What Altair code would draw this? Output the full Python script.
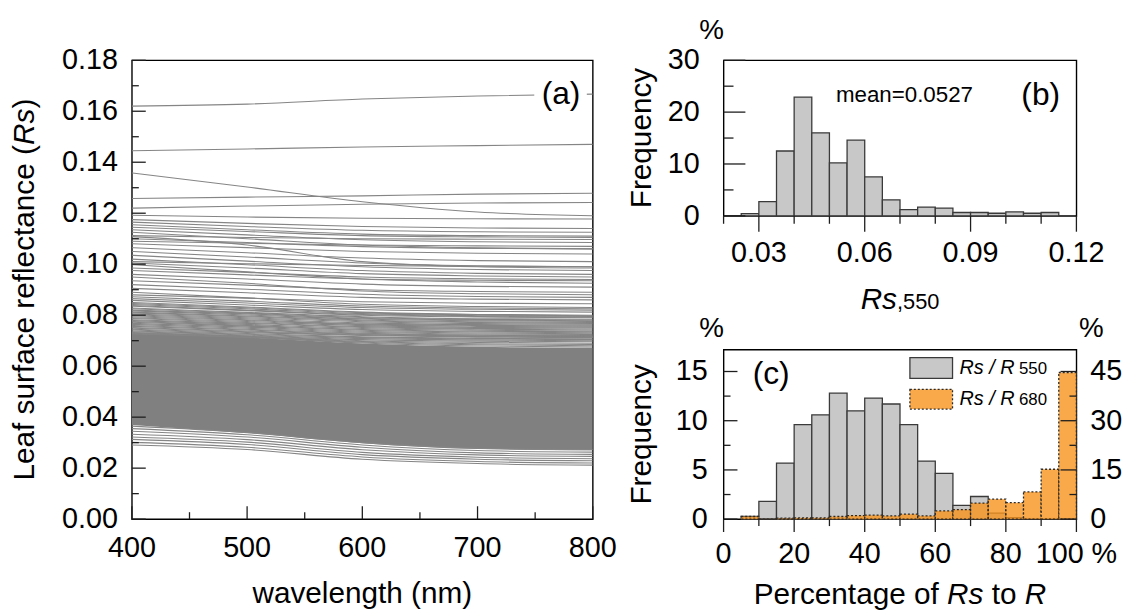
import altair as alt
import pandas as pd

FONT = "Liberation Sans"
INK = "#1e1e1e"

# ---------------- panel (a): spectra ----------------
WAVELENGTH = [400, 500, 600, 700, 800]

UPPER_LINES = [
    [0.1620, 0.1628, 0.1648, 0.1660, 0.1667],
    [0.1445, 0.1452, 0.1460, 0.1465, 0.1470],
    [0.1358, 0.1303, 0.1245, 0.1205, 0.1190],
    [0.1258, 0.1263, 0.1268, 0.1275, 0.1278],
    [0.1220, 0.1228, 0.1235, 0.1240, 0.1242],
    [0.1192, 0.1185, 0.1180, 0.1178, 0.1177],
    [0.1175, 0.1160, 0.1148, 0.1142, 0.1140],
    [0.1165, 0.1148, 0.1133, 0.1127, 0.1125],
    [0.1155, 0.1135, 0.1118, 0.1112, 0.1110],
    [0.1145, 0.1128, 0.1112, 0.1107, 0.1105],
    [0.1135, 0.1115, 0.1096, 0.1088, 0.1085],
    [0.1125, 0.1100, 0.1075, 0.1064, 0.1060],
    [0.1112, 0.1105, 0.1100, 0.1098, 0.1097],
    [0.1108, 0.1075, 0.1010, 0.0990, 0.0985],
    [0.1100, 0.1085, 0.1069, 0.1062, 0.1060],
    [0.1090, 0.1082, 0.1075, 0.1072, 0.1070],
    [0.1080, 0.1065, 0.1050, 0.1043, 0.1040],
    [0.1065, 0.1045, 0.1024, 0.1014, 0.1010],
    [0.1050, 0.1028, 0.1005, 0.0994, 0.0990],
    [0.1035, 0.1012, 0.0990, 0.0979, 0.0975],
    [0.1020, 0.0998, 0.0975, 0.0964, 0.0960],
    [0.1010, 0.1002, 0.0995, 0.0992, 0.0990],
    [0.1005, 0.0985, 0.0963, 0.0954, 0.0950],
    [0.0998, 0.0970, 0.0942, 0.0930, 0.0925],
    [0.0985, 0.0968, 0.0950, 0.0943, 0.0940],
    [0.0975, 0.0958, 0.0942, 0.0937, 0.0935],
    [0.0960, 0.0942, 0.0922, 0.0913, 0.0910],
    [0.0950, 0.0925, 0.0895, 0.0884, 0.0880],
    [0.0935, 0.0918, 0.0900, 0.0893, 0.0890],
    [0.0920, 0.0902, 0.0882, 0.0873, 0.0870],
    [0.0905, 0.0888, 0.0870, 0.0863, 0.0860],
    [0.0890, 0.0868, 0.0843, 0.0834, 0.0830],
    [0.0880, 0.0867, 0.0853, 0.0847, 0.0845],
    [0.0872, 0.0855, 0.0836, 0.0828, 0.0825],
    [0.0865, 0.0848, 0.0830, 0.0823, 0.0820],
    [0.0858, 0.0840, 0.0822, 0.0815, 0.0812],
    [0.0850, 0.0832, 0.0812, 0.0803, 0.0800],
    [0.0846, 0.0829, 0.0810, 0.0801, 0.0798],
    [0.0842, 0.0825, 0.0806, 0.0798, 0.0795],
    [0.0838, 0.0820, 0.0803, 0.0795, 0.0792],
    [0.0835, 0.0818, 0.0800, 0.0793, 0.0790],
    [0.0828, 0.0811, 0.0794, 0.0786, 0.0784],
    [0.0825, 0.0808, 0.0791, 0.0783, 0.0781],
    [0.0820, 0.0805, 0.0788, 0.0781, 0.0778],
    [0.0817, 0.0801, 0.0785, 0.0778, 0.0775],
    [0.0812, 0.0797, 0.0781, 0.0774, 0.0771],
    [0.0809, 0.0794, 0.0778, 0.0771, 0.0768],
    [0.0805, 0.0790, 0.0774, 0.0767, 0.0765],
    [0.0802, 0.0786, 0.0770, 0.0763, 0.0761],
    [0.0798, 0.0782, 0.0766, 0.0760, 0.0757],
    [0.0794, 0.0779, 0.0763, 0.0756, 0.0753],
    [0.0790, 0.0775, 0.0759, 0.0752, 0.0750],
    [0.0787, 0.0771, 0.0755, 0.0748, 0.0746],
    [0.0782, 0.0768, 0.0752, 0.0745, 0.0742],
    [0.0779, 0.0764, 0.0748, 0.0741, 0.0738],
    [0.0775, 0.0760, 0.0744, 0.0737, 0.0735],
    [0.0772, 0.0757, 0.0741, 0.0734, 0.0731],
    [0.0768, 0.0753, 0.0737, 0.0730, 0.0727],
    [0.0764, 0.0749, 0.0733, 0.0726, 0.0724],
    [0.0760, 0.0745, 0.0729, 0.0722, 0.0720],
    [0.0756, 0.0742, 0.0727, 0.0721, 0.0718],
    [0.0752, 0.0738, 0.0724, 0.0718, 0.0716],
    [0.0749, 0.0735, 0.0722, 0.0716, 0.0713],
    [0.0745, 0.0732, 0.0720, 0.0714, 0.0712],
    [0.0742, 0.0728, 0.0715, 0.0709, 0.0707],
    [0.0738, 0.0725, 0.0712, 0.0706, 0.0704],
    [0.0735, 0.0722, 0.0708, 0.0702, 0.0700],
    [0.0732, 0.0719, 0.0704, 0.0698, 0.0696],
    [0.0730, 0.0717, 0.0700, 0.0693, 0.0690],
    [0.0729, 0.0715, 0.0697, 0.0688, 0.0685],
    [0.0728, 0.0714, 0.0694, 0.0684, 0.0680],
    [0.0727, 0.0713, 0.0691, 0.0679, 0.0675],
]

LOWER_LINES = [
    [0.0365, 0.0340, 0.0300, 0.0278, 0.0272],
    [0.0355, 0.0331, 0.0291, 0.0269, 0.0263],
    [0.0345, 0.0322, 0.0282, 0.0260, 0.0254],
    [0.0333, 0.0312, 0.0272, 0.0252, 0.0246],
    [0.0322, 0.0302, 0.0262, 0.0243, 0.0237],
    [0.0313, 0.0293, 0.0253, 0.0235, 0.0229],
    [0.0301, 0.0282, 0.0244, 0.0226, 0.0220],
    [0.0291, 0.0273, 0.0235, 0.0218, 0.0212],
]

BAND_LOWER = [0.0369, 0.0337, 0.0298, 0.0275, 0.0270]
BAND_UPPER = [0.0727, 0.0713, 0.0689, 0.0676, 0.0672]

A_YMAJ = [0.00, 0.02, 0.04, 0.06, 0.08, 0.10, 0.12, 0.14, 0.16, 0.18]
A_YLAB = ["0.00", "0.02", "0.04", "0.06", "0.08", "0.10", "0.12", "0.14", "0.16", "0.18"]
A_YMIN = [0.01, 0.03, 0.05, 0.07, 0.09, 0.11, 0.13, 0.15, 0.17]
A_XMAJ = [400, 500, 600, 700, 800]
A_XLAB = ["400", "500", "600", "700", "800"]
A_XMIN = [450, 550, 650, 750]

# ---------------- panel (b): histogram of Rs,550 ----------------
B_EDGES = [0.025, 0.030, 0.035, 0.040, 0.045, 0.050, 0.055, 0.060, 0.065, 0.070,
           0.075, 0.080, 0.085, 0.090, 0.095, 0.100, 0.105, 0.110, 0.115]
B_FREQ = [0.45, 2.75, 12.5, 22.9, 16.0, 10.2, 14.6, 7.5, 3.1, 1.2,
          1.7, 1.5, 0.65, 0.65, 0.5, 0.75, 0.5, 0.65]
B_XMAJ = [0.03, 0.06, 0.09, 0.12]
B_XLAB = ["0.03", "0.06", "0.09", "0.12"]
B_XMIN = [0.02, 0.04, 0.05, 0.07, 0.08, 0.10, 0.11]
B_YMAJ = [0, 10, 20, 30]
B_YLAB = ["0", "10", "20", "30"]
B_YMIN = [5, 15, 25]

# ---------------- panel (c): percentage of Rs to R ----------------
C_EDGES = [5, 10, 15, 20, 25, 30, 35, 40, 45, 50, 55, 60, 65, 70, 75, 80, 85, 90, 95, 100]
C_R550 = [0.27, 1.8, 5.7, 9.6, 10.6, 12.8, 11.0, 12.3, 11.7, 9.6,
          5.9, 4.66, 1.4, 2.3, 0.6, 0.15, 0.0, 0.0, 0.0]
C_R680 = [0.8, 0.1, 0.3, 0.4, 0.4, 0.8, 1.1, 1.2, 1.0, 1.5,
          1.0, 2.5, 2.9, 4.9, 6.1, 5.0, 8.3, 15.2, 44.7]
C_XMAJ = [0, 20, 40, 60, 80, 100]
C_XLAB = ["0", "20", "40", "60", "80", "100 %"]
C_XMIN = [10, 30, 50, 70, 90]
C_YL_MAJ = [0, 5, 10, 15]
C_YL_LAB = ["0", "5", "10", "15"]
C_YL_MIN = [2.5, 7.5, 12.5]
C_YR_MAJ = [0, 15, 30, 45]
C_YR_LAB = ["0", "15", "30", "45"]
C_YR_MIN = [7.5, 22.5, 37.5]

GRAY_FILL = "#c8c8c8"
BAR_EDGE = "#3a3a3a"
ORANGE = "#f7941d"

# ---------------- geometry ----------------
A_W, A_H = 465, 463
B_W, B_H = 356, 157
C_W, C_H = 356, 171
H_GAP = 132
V_GAP = 135

ONE = pd.DataFrame({"k": [0]})


def txt(text, x, y, size, italic=False, align="center", baseline="middle", angle=0):
    return alt.Chart(ONE).mark_text(
        text=text, font=FONT, fontSize=size, fontStyle="italic" if italic else "normal",
        align=align, baseline=baseline, angle=angle, color="black"
    ).encode(x=alt.value(x), y=alt.value(y))


def box(x0, x1, y0, y1, **kw):
    return alt.Chart(ONE).mark_rect(**kw).encode(
        x=alt.value(x0), x2=alt.value(x1), y=alt.value(y0), y2=alt.value(y1))


def yticks(vals, scale, x0, x1):
    return alt.Chart(pd.DataFrame({"v": vals})).mark_rule(color=INK, strokeWidth=1.3).encode(
        y=alt.Y("v:Q", scale=scale, axis=None), x=alt.value(x0), x2=alt.value(x1))


def xticks(vals, scale, y0, y1):
    return alt.Chart(pd.DataFrame({"v": vals})).mark_rule(color=INK, strokeWidth=1.3).encode(
        x=alt.X("v:Q", scale=scale, axis=None), y=alt.value(y0), y2=alt.value(y1))


def ylabels(vals, labels, scale, x, align, size=29):
    return alt.Chart(pd.DataFrame({"v": vals, "t": labels})).mark_text(
        font=FONT, fontSize=size, align=align, baseline="middle", color="black"
    ).encode(y=alt.Y("v:Q", scale=scale, axis=None), x=alt.value(x), text="t:N")


def xlabels(vals, labels, scale, y, size=29):
    return alt.Chart(pd.DataFrame({"v": vals, "t": labels})).mark_text(
        font=FONT, fontSize=size, align="center", baseline="middle", color="black"
    ).encode(x=alt.X("v:Q", scale=scale, axis=None), y=alt.value(y), text="t:N")


# ---------------- panel (a) ----------------
XA = alt.Scale(domain=[400, 800], nice=False, zero=False)
YA = alt.Scale(domain=[0, 0.18], nice=False, zero=False)

rows = []
for i, vals in enumerate(UPPER_LINES + LOWER_LINES):
    for w, r in zip(WAVELENGTH, vals):
        rows.append({"id": i, "wl": w, "r": r})
lines_df = pd.DataFrame(rows)
band_df = pd.DataFrame({"wl": WAVELENGTH, "lo": BAND_LOWER, "hi": BAND_UPPER})

band = alt.Chart(band_df).mark_area(color="#808080", interpolate="monotone", clip=True).encode(
    x=alt.X("wl:Q", scale=XA, axis=None),
    y=alt.Y("lo:Q", scale=YA, axis=None),
    y2="hi:Q",
)
spectra = alt.Chart(lines_df).mark_line(
    stroke="#858585", strokeWidth=1.1, interpolate="monotone", clip=True
).encode(
    x=alt.X("wl:Q", scale=XA, axis=None),
    y=alt.Y("r:Q", scale=YA, axis=None),
    detail="id:N",
)

# Rs title pieces (rotated, reading bottom to top)
y_title = alt.layer(
    txt("Leaf surface reflectance (", -108, 424, 30, align="left", angle=270),
    txt("Rs", -108, 85.5, 30, italic=True, align="left", angle=270),
    txt(")", -108, 48.8, 30, align="left", angle=270),
)

anchor = alt.Chart(ONE).mark_rule(opacity=0, strokeWidth=1).encode(
    x=alt.value(-123.5), x2=alt.value(-123.5), y=alt.value(-48.5), y2=alt.value(-46))

panel_a = alt.layer(
    band,
    spectra,
    box(406, 459, 22, 48, fill="white"),
    txt("(a)", 433, 34, 32),
    yticks(A_YMAJ, YA, 0, 14),
    yticks(A_YMIN, YA, 0, 7),
    xticks(A_XMAJ, XA, A_H, A_H - 13),
    xticks(A_XMIN, XA, A_H, A_H - 7),
    ylabels(A_YMAJ, A_YLAB, YA, -14, "right"),
    xlabels(A_XMAJ, A_XLAB, XA, A_H + 29),
    y_title,
    txt("wavelength (nm)", A_W / 2, A_H + 76, 30),
    anchor,
).properties(width=A_W, height=A_H)

# ---------------- panel (b) ----------------
XB = alt.Scale(domain=[0.02, 0.12], nice=False, zero=False)
YB = alt.Scale(domain=[0, 30], nice=False, zero=False)
b_df = pd.DataFrame({"x0": B_EDGES[:-1], "x1": B_EDGES[1:], "f": B_FREQ, "z": [0] * len(B_FREQ)})

b_bars = alt.Chart(b_df).mark_rect(fill=GRAY_FILL, stroke=BAR_EDGE, strokeWidth=1.3).encode(
    x=alt.X("x0:Q", scale=XB, axis=None), x2="x1:Q",
    y=alt.Y("f:Q", scale=YB, axis=None), y2="z:Q",
)

panel_b = alt.layer(
    b_bars,
    yticks(B_YMAJ, YB, 0, 22),
    yticks(B_YMIN, YB, 0, 10),
    xticks(B_XMAJ, XB, B_H, B_H + 16),
    xticks(B_XMIN, XB, B_H, B_H + 8),
    ylabels(B_YMAJ, B_YLAB, YB, -24, "right"),
    xlabels(B_XMAJ, B_XLAB, XB, B_H + 38),
    txt("%", -12, -29, 28),
    txt("Frequency", -82, B_H / 2, 30, angle=270),
    txt("mean=0.0527", 182.5, 35, 22.5),
    txt("(b)", 320, 35, 32),
    txt("Rs", 138.3, B_H + 94, 30, italic=True, align="left", baseline="alphabetic"),
    txt(",550", 175, B_H + 94, 22, align="left", baseline="alphabetic"),
).properties(width=B_W, height=B_H)

# ---------------- panel (c) ----------------
XC = alt.Scale(domain=[0, 100], nice=False, zero=False)
YCL = alt.Scale(domain=[0, 17.22], nice=False, zero=False)
YCR = alt.Scale(domain=[0, 51.66], nice=False, zero=False)
c_df = pd.DataFrame({
    "x0": C_EDGES[:-1], "x1": C_EDGES[1:],
    "g": C_R550, "o": C_R680, "z": [0] * len(C_R550),
})

c_gray = alt.Chart(c_df).mark_rect(fill=GRAY_FILL, stroke=BAR_EDGE, strokeWidth=1.3).encode(
    x=alt.X("x0:Q", scale=XC, axis=None), x2="x1:Q",
    y=alt.Y("g:Q", scale=YCL, axis=None), y2="z:Q",
)
c_orange = alt.Chart(c_df).mark_rect(
    fill=ORANGE, fillOpacity=0.8, stroke="#2a2a2a", strokeWidth=1.3, strokeDash=[2, 2]
).encode(
    x=alt.X("x0:Q", scale=XC, axis=None), x2="x1:Q",
    y=alt.Y("o:Q", scale=YCR, axis=None), y2="z:Q",
)

LEG_X0, LEG_X1 = 188, 231
panel_c = alt.layer(
    c_gray,
    c_orange,
    yticks(C_YL_MAJ, YCL, 0, 14),
    yticks(C_YL_MIN, YCL, 0, 7),
    yticks(C_YR_MAJ, YCR, C_W, C_W - 16),
    yticks(C_YR_MIN, YCR, C_W, C_W - 7),
    xticks(C_XMAJ, XC, C_H, C_H + 13),
    xticks(C_XMIN, XC, C_H, C_H + 7),
    ylabels(C_YL_MAJ, C_YL_LAB, YCL, -16, "right"),
    ylabels(C_YR_MAJ, C_YR_LAB, YCR, C_W + 14, "left"),
    xlabels(C_XMAJ, C_XLAB, XC, C_H + 35),
    txt("%", -12, -21, 28),
    txt("%", C_W + 15, -21, 28),
    txt("Frequency", -82, C_H / 2, 30, angle=270),
    txt("(c)", 48, 25, 32),
    box(LEG_X0, LEG_X1, 8, 29, fill=GRAY_FILL, stroke=BAR_EDGE, strokeWidth=1.3),
    box(LEG_X0, LEG_X1, 40, 60, fill=ORANGE, fillOpacity=0.8, stroke="#2a2a2a",
        strokeWidth=1.3, strokeDash=[2, 2]),
    txt("Rs / R", 238, 19, 20, italic=True, align="left"),
    txt("550", 298, 20, 17, align="left"),
    txt("Rs / R", 238, 50, 20, italic=True, align="left"),
    txt("680", 298, 51, 17, align="left"),
    txt("Percentage of", 30.4, C_H + 77, 30, align="left"),
    txt("Rs", 225.5, C_H + 77, 30, italic=True, align="left"),
    txt("to", 270.5, C_H + 77, 30, align="left"),
    txt("R", 303.9, C_H + 77, 30, italic=True, align="left"),
).resolve_scale(y="independent").properties(width=C_W, height=C_H)

right_col = alt.vconcat(panel_b, panel_c, spacing=V_GAP, bounds="flush")
chart = alt.hconcat(panel_a, right_col, spacing=H_GAP, bounds="flush").properties(
    padding=0, background="white"
).configure_view(stroke="black", strokeWidth=1.4)

chart.save("out.html", embed_options={"renderer": "svg", "actions": False})
